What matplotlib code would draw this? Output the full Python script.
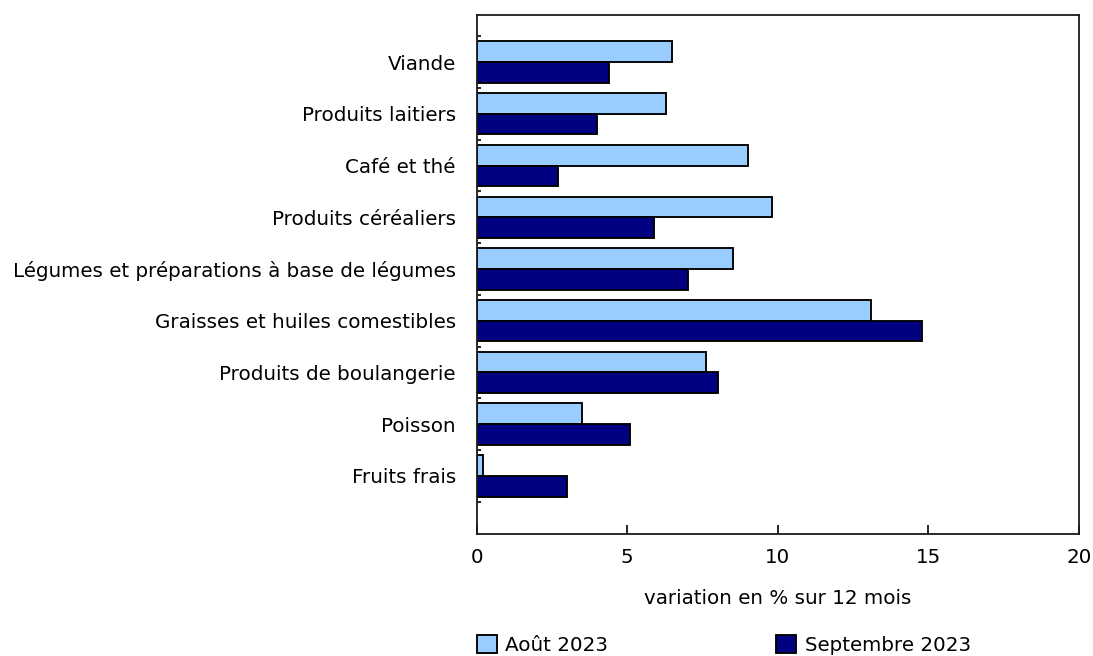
"""Prix des aliments : variation sur 12 mois, août et septembre 2023"""
import numpy as np
import matplotlib
matplotlib.use('Agg')
import matplotlib.pyplot as plt
from matplotlib.patches import Patch
import matplotlib.ticker as plticker

CATEGORIES = ['Viande', 'Produits laitiers', 'Café et thé', 'Produits céréaliers',
              'Légumes et préparations à base de légumes', 'Graisses et huiles comestibles',
              'Produits de boulangerie', 'Poisson', 'Fruits frais']
AOUT_2023 = [6.5, 6.3, 9.0, 9.8, 8.5, 13.1, 7.6, 3.5, 0.2]
SEPT_2023 = [4.4, 4.0, 2.7, 5.9, 7.0, 14.8, 8.0, 5.1, 3.0]
SERIES_NAMES = ['Août 2023', 'Septembre 2023']
X_TICKS = [0, 5, 10, 15, 20]
X_LABEL = 'variation en % sur 12 mois'

LIGHT = '#99ccff'
DARK = '#000080'
FS = 14.3
LW = 1.35

plt.rcParams['font.family'] = ['DejaVu Sans']

fig = plt.figure(figsize=(10.93, 6.56), dpi=100)
ax = fig.add_axes([476.7 / 1093, 1 - 534.3 / 656, (1079 - 476.7) / 1093, (534.3 - 15) / 656])

y = np.arange(len(CATEGORIES))
h = 0.4
ax.barh(y - h / 2, AOUT_2023, height=h, color=LIGHT, edgecolor='black', linewidth=LW)
ax.barh(y + h / 2, SEPT_2023, height=h, color=DARK, edgecolor='black', linewidth=LW)

ax.set_xlim(0, 20)
ax.set_ylim(len(CATEGORIES) - 1 + 1.13, -0.91)
ax.set_xticks(X_TICKS)
ax.set_xticklabels([str(t) for t in X_TICKS], fontsize=FS)
ax.set_yticks(y)
ax.set_yticklabels(CATEGORIES, fontsize=FS)
ax.yaxis.set_minor_locator(plticker.FixedLocator(np.arange(-0.5, len(CATEGORIES), 1.0)))

ax.tick_params(axis='x', direction='in', length=6.5, width=1.2, pad=10, color='black')
ax.tick_params(axis='y', which='major', length=0, pad=15)
ax.tick_params(axis='y', which='minor', direction='in', length=3, width=1.2)
for sp in ax.spines.values():
    sp.set_linewidth(1.3)
    sp.set_color('#1a1a1a')

fig.text((476.7 + 1079) / 2 / 1093, 1 - 598.3 / 656, X_LABEL, fontsize=FS,
         ha='center', va='center')

handles = [Patch(facecolor=LIGHT, edgecolor='black', linewidth=LW),
           Patch(facecolor=DARK, edgecolor='black', linewidth=LW)]
fig.legend(handles, SERIES_NAMES, loc='center left', ncol=2,
           bbox_to_anchor=(476.7 / 1093, 1 - 645 / 656), frameon=False, fontsize=FS,
           handlelength=1.0, handleheight=1.0, handletextpad=0.45, columnspacing=8.45,
           borderpad=0, borderaxespad=0)

fig.savefig('out.png', dpi=100)
